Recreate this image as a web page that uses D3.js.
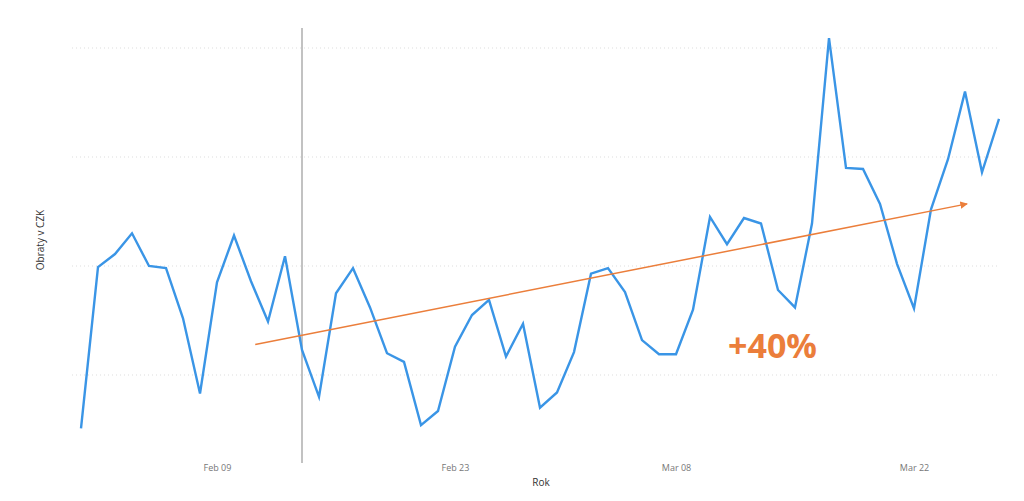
<!DOCTYPE html>
<html><head><meta charset="utf-8">
<script src="https://cdn.jsdelivr.net/npm/d3@7"></script>
<style>body{margin:0;background:#fff;font-family:"Open Sans",sans-serif;}</style>
</head><body>
<svg id="chart" width="1024" height="501"></svg>
<script>
// daily turnover, Feb 1 .. Mar 27
var startDate = "2021-02-01";
var values = [51,199,211,230,200,198,152,83,185,228,186,149,209,123,80,175,198,162,120,112,
  54,67,126,155,169,117,147,70,84,121,193,198,176,132,119,119,160,245,220,244,
  239,178,162,239,409,290,289,257,202,161,252,298,360,286,335];
var gridValues = [100, 200, 300, 400];
var tickDates = ["2021-02-09", "2021-02-23", "2021-03-08", "2021-03-22"];
var markerDate = "2021-02-14";
var trendStart = { date: "2021-02-11T06:00", value: 128 };
var trendEnd = { date: "2021-03-25T03:00", value: 257 };
var trendLabel = "+40%";

var parse = d3.isoParse;
var t0 = parse(startDate);
var data = values.map(function(v, i) { return { date: d3.timeDay.offset(t0, i), value: v }; });

var svg = d3.select("#chart");
var x = d3.scaleTime().domain([t0, data[data.length - 1].date]).range([81, 999]);
var y = d3.scaleLinear().domain([100, 400]).range([375, 48]);

// grid
svg.selectAll(".grid").data(gridValues).enter().append("line")
  .attr("x1", 72).attr("x2", 1000)
  .attr("y1", function(d) { return y(d); }).attr("y2", function(d) { return y(d); })
  .style("stroke", "#ddd").style("stroke-dasharray", "1,3");

// x ticks
var xAxis = d3.axisBottom(x).tickValues(tickDates.map(parse))
  .tickFormat(d3.timeFormat("%b %d")).tickSize(0);
var gx = svg.append("g").attr("transform", "translate(0,462)").call(xAxis);
gx.select(".domain").remove();
gx.selectAll("text").style("fill", "#777").style("font-size", "9px").style("font-family", "Open Sans");

svg.append("text").attr("x", 541).attr("y", 486).attr("text-anchor", "middle")
  .style("font-size", "10px").style("fill", "#333").text("Rok");
svg.append("text").attr("transform", "translate(44,240) rotate(-90)").attr("text-anchor", "middle")
  .style("font-size", "10px").style("fill", "#333").text("Obraty  v  CZK");

// marker line
svg.append("line").attr("x1", x(parse(markerDate))).attr("x2", x(parse(markerDate)))
  .attr("y1", 28).attr("y2", 463).style("stroke", "#999").style("stroke-width", 1.2);

// series
svg.append("path").datum(data)
  .attr("d", d3.line().x(function(d) { return x(d.date); }).y(function(d) { return y(d.value); }))
  .style("fill", "none").style("stroke", "#3a95e6").style("stroke-width", 2.4)
  .style("stroke-linejoin", "miter");

// trend arrow
var orange = "#eb7e3b";
svg.append("defs").append("marker").attr("id", "arr").attr("viewBox", "0 0 10 10")
  .attr("refX", 9).attr("refY", 5).attr("markerWidth", 5).attr("markerHeight", 5).attr("orient", "auto")
  .append("path").attr("d", "M0,0L10,5L0,10z").style("fill", orange);
svg.append("line")
  .attr("x1", x(parse(trendStart.date))).attr("y1", y(trendStart.value))
  .attr("x2", x(parse(trendEnd.date))).attr("y2", y(trendEnd.value))
  .style("stroke", orange).style("stroke-width", 1.5).attr("marker-end", "url(#arr)");
svg.append("text").attr("x", 728).attr("y", 358)
  .style("font-size", "34px").style("font-weight", "bold").style("fill", orange)
  .style("font-family", "Open Sans").text(trendLabel);
</script>
</body></html>
